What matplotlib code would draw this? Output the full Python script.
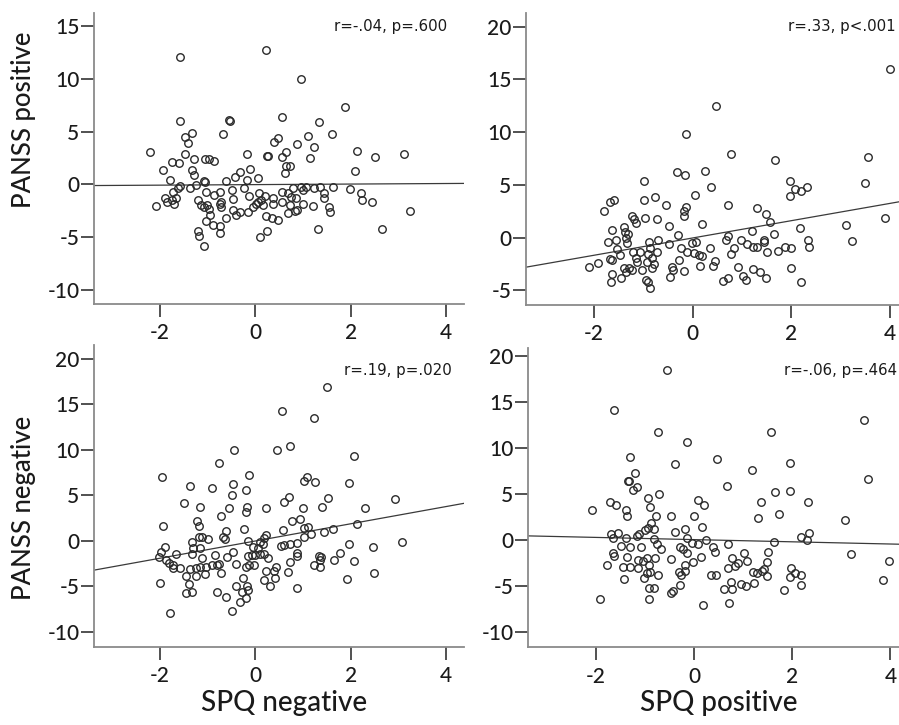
import matplotlib
matplotlib.use("Agg")
import matplotlib.pyplot as plt
import numpy as np

plt.rcParams['axes.unicode_minus'] = False

# ---------------- data ----------------
tl_x = [-2.22,-2.09,-1.94,-1.80,-1.76,-1.61,-1.59,-1.59,-1.48,-1.41,-1.33,-1.48,-1.29,-1.34,-1.29,-1.90,-1.85,-1.76,-1.71,-1.67,
        -1.74,-1.62,-1.59,-1.38,-1.25,-1.20,-1.15,-1.08,-1.06,-1.06,-0.97,-0.87,-1.20,-1.19,-1.08,-1.03,-1.01,-0.97,-0.96,-1.03,
        -0.89,-0.87,-0.75,-0.74,-0.75,-0.72,-0.72,-0.74,-0.68,-0.62,-0.62,-0.56,-0.54,-0.50,-0.47,-0.48,-0.43,-0.40,-0.33,-0.33,
        -0.24,-0.17,-0.17,-0.15,-0.12,-0.13,-1.08,
        0.23,0.95,1.88,0.55,1.33,1.61,1.10,0.88,1.22,0.39,0.48,0.25,0.27,0.64,0.55,1.14,2.14,2.52,3.12,0.65,0.73,0.63,2.10,0.06,
        0.08,0.20,0.37,0.55,0.68,0.79,0.95,1.06,1.00,0.86,0.75,1.35,1.22,1.63,1.45,1.44,1.99,2.21,2.23,2.45,3.25,0.06,0.01,0.11,
        0.16,-0.05,0.36,0.55,0.72,0.68,0.83,0.87,1.00,1.21,1.54,1.56,0.23,0.35,0.48,0.25,0.09,1.31,2.66]
tl_y = [3.1,-2.1,1.36,0.41,2.15,2.0,12.06,6.0,4.5,3.9,4.87,2.9,2.4,1.36,0.9,-1.33,-1.7,-1.5,-1.9,-1.27,
        -0.7,-0.38,-0.2,-0.38,-0.06,-1.5,-1.96,0.32,0.25,2.37,2.37,2.25,-4.43,-4.87,-5.9,-0.7,-2.0,-2.3,-2.9,-3.5,
        -3.86,-1.0,-4.0,-4.6,-1.9,-1.65,-2.2,-0.7,4.78,0.32,-3.2,6.1,6.0,-0.54,-1.39,-2.4,0.66,-2.9,-2.6,1.2,
        -0.38,2.9,0.41,-2.6,1.5,-1.08,-2.2,
        12.75,10.0,7.37,6.42,5.95,4.81,4.59,3.8,3.58,4.05,4.43,2.69,2.69,3.1,2.63,2.47,3.2,2.6,2.85,1.77,1.77,1.04,1.3,0.57,
        -0.85,-1.08,-1.27,-0.7,-0.85,-0.32,-0.22,-0.22,-0.54,-1.27,-1.17,-0.22,-0.32,-0.22,-0.85,-1.27,-0.44,-0.85,-1.49,-1.7,-2.5,-1.65,-1.9,-1.49,
        -1.96,-2.2,-1.9,-1.65,-1.96,-2.75,-2.53,-2.44,-1.9,-2.06,-2.12,-2.66,-2.97,-3.23,-3.39,-4.43,-4.97,-4.27,-4.27]

tr_x = [-2.10,-1.93,-1.80,-1.67,-1.59,-1.64,-1.72,-1.67,-1.63,-1.64,-1.65,-1.55,-1.54,-1.48,-1.45,-1.40,-1.37,-1.31,-1.35,-1.33,
        -1.40,-1.35,-1.30,-1.24,-1.23,-1.20,-1.16,-1.22,-1.16,-1.13,-1.06,-1.03,-0.99,-0.98,-0.96,-0.90,-0.95,-0.90,-0.86,-0.88,
        -0.86,-0.93,-0.82,-0.77,-0.82,-0.79,-0.72,-0.72,-0.70,-0.55,-0.48,-0.48,-0.43,-0.47,-0.41,-0.29,-0.31,-0.16,-0.14,-0.14,
        -0.18,-0.18,-0.28,-0.18,-0.24,-0.11,-0.01,0.03,0.05,
        3.99,0.48,0.78,1.67,3.56,0.25,0.38,1.98,2.07,2.20,2.32,1.98,3.50,0.71,1.31,1.49,1.57,0.18,2.18,3.10,3.89,3.22,1.20,1.65,
        0.71,0.67,0.06,0.35,0.84,0.78,0.98,1.10,1.22,1.31,1.44,1.44,1.50,1.73,1.88,1.99,2.34,2.36,0.13,0.18,0.46,0.15,0.41,0.91,
        1.23,1.37,0.62,0.72,1.01,1.07,1.49,2.00,2.19]
tr_y = [-2.82,-2.44,2.56,3.35,3.58,0.73,-0.38,-2.06,-2.12,-3.48,-4.18,-0.22,-1.08,-1.65,-3.86,1.04,0.57,0.32,-0.06,-0.54,
        -2.91,-3.23,-2.91,-3.07,2.09,1.74,1.36,-1.33,-1.96,-2.28,-1.33,-3.07,5.38,3.58,1.84,-1.58,-4.02,-4.24,-4.81,-0.38,
        -1.01,-2.28,-1.96,3.86,-2.91,-2.53,1.77,-1.33,-0.28,3.04,1.14,-0.63,-2.75,-3.7,-3.07,0.25,6.17,5.89,9.84,2.94,
        2.47,2.09,-2.12,-3.13,-0.95,-1.33,-0.54,-1.49,4.05,
        16.0,12.5,7.91,7.31,7.63,6.27,4.84,5.38,4.59,4.37,4.84,3.96,5.22,3.04,2.78,2.25,1.52,1.30,0.95,1.20,1.90,-0.32,0.66,0.38,
        0.19,-0.28,-0.38,-1.01,-1.01,-1.58,-0.22,-0.63,-0.92,-0.92,-0.28,-0.38,-1.39,-1.27,-0.92,-1.01,-0.25,-0.92,-1.65,-1.71,-2.18,-2.66,-2.66,-2.82,
        -2.97,-3.23,-4.08,-3.86,-3.61,-4.02,-3.86,-2.85,-4.18]

bl_x = [-1.96,-1.94,-2.01,-1.80,-1.90,-1.98,-2.02,-1.87,-1.81,-1.73,-1.74,-1.66,-1.59,-1.50,-1.38,-1.45,-1.40,-1.45,-1.34,-1.34,
        -1.32,-1.34,-1.38,-1.25,-1.24,-1.22,-1.19,-1.17,-1.19,-1.12,-1.17,-1.13,-1.16,-1.06,-1.03,-1.00,-0.91,-0.85,-0.92,-0.80,
        -0.77,-0.73,-0.77,-0.73,-0.80,-0.61,-0.68,-0.63,-0.61,-0.56,-0.50,-0.47,-0.45,-0.48,-0.59,-0.50,-0.41,-0.40,-0.29,-0.33,
        -0.26,-0.24,-0.19,-0.19,-0.17,-0.19,-0.15,-0.13,-0.15,-0.17,-0.19,-0.15,
        1.51,0.55,1.22,0.72,0.45,2.07,1.09,1.03,1.26,1.96,0.71,0.61,1.52,0.23,1.00,1.40,2.31,2.94,0.77,0.93,1.01,1.10,0.57,1.03,
        1.17,1.43,1.63,2.13,0.09,0.17,0.22,0.15,-0.05,0.06,0.54,0.61,0.72,0.88,0.88,0.87,1.96,2.47,3.07,-0.08,-0.01,0.09,0.17,0.27,
        -0.13,-0.03,0.22,0.39,0.44,0.73,0.69,1.22,1.35,1.33,1.37,1.35,1.65,1.77,2.07,0.17,0.30,0.42,0.88,1.93,2.49]
bl_y = [6.97,1.62,-4.63,-8.0,-0.73,-1.21,-1.84,-2.13,-2.5,-2.97,-2.68,-1.51,-3.05,4.11,6.02,-3.85,-4.81,-5.8,-5.62,-0.11,
        -0.84,-1.51,-3.12,-2.97,-3.85,2.2,1.65,3.67,0.44,0.44,-0.84,-1.95,-2.86,-3.71,-2.86,0.15,5.84,-1.58,-2.68,-2.68,
        -2.57,-3.52,8.52,2.75,-5.62,1.10,0.44,0.18,-6.17,3.63,5.03,6.2,9.99,-1.21,-1.84,-7.71,-2.57,-4.96,-5.62,-6.72,
        -4.15,1.28,5.58,3.19,3.74,-2.86,-1.65,7.23,-0.04,-4.96,-6.35,-5.43,
        16.96,14.28,13.55,10.43,9.99,9.32,7.05,6.57,6.5,6.31,4.77,4.3,4.74,3.63,3.63,3.74,3.63,4.59,2.17,2.35,1.36,1.54,1.17,0.44,
        0.73,0.99,1.28,1.84,-0.18,0.26,0.62,-0.40,-0.66,-0.84,-0.59,-0.48,-0.37,-0.29,-1.32,-1.65,-0.37,-0.66,-0.18,-1.58,-1.58,-1.51,-1.51,-1.95,
        -2.68,-2.68,-3.3,-3.3,-2.94,-2.39,-3.49,-2.68,-2.86,-1.65,-1.84,-2.13,-2.13,-1.40,-2.24,-4.33,-4.99,-4.15,-5.25,-4.26,-3.52]

br_x = [-0.55,-1.63,-0.73,-0.14,-1.31,-0.39,-1.21,-1.34,-1.32,-1.15,-1.24,-0.72,-0.93,-1.70,-1.58,-2.07,-1.38,-1.36,-0.89,-0.78,
        -0.46,-0.87,-0.93,-0.81,-1.00,-0.18,-0.38,0.0,-1.69,-1.54,-1.64,-1.17,-1.12,-1.38,-1.48,-1.31,-1.07,-0.81,-0.76,-0.68,
        -0.29,-0.15,-0.22,-0.14,-0.04,-1.65,-1.63,-1.78,-1.44,-1.36,-1.31,-1.14,-1.14,-1.04,-0.95,-0.92,-0.90,-0.95,-0.80,-0.73,
        -1.02,-1.42,-0.46,-0.31,-0.26,-0.18,-0.01,-0.18,-0.29,-0.43,-0.46,-0.92,-0.82,-0.92,-1.91,
        3.46,1.56,0.47,1.18,1.96,3.54,0.68,1.66,1.96,1.36,2.32,0.09,0.20,1.73,1.31,3.07,0.16,2.35,2.19,2.30,1.64,0.25,0.09,0.69,
        0.39,0.42,0.15,3.20,3.98,3.86,0.78,0.89,1.01,1.08,0.84,0.69,1.50,1.49,1.42,1.38,1.20,1.29,1.49,1.23,0.34,0.45,0.76,0.78,
        0.61,0.96,1.05,1.97,1.96,2.06,2.18,2.17,1.84,0.18,0.71]
br_y = [18.55,14.18,11.75,10.65,8.98,8.25,7.27,6.44,6.36,5.71,5.38,4.98,4.55,4.18,3.82,3.27,3.27,2.55,3.53,2.55,
        2.55,1.82,1.27,1.16,1.09,1.16,0.84,2.55,0.62,0.73,0.25,0.47,0.62,0.18,-0.62,-0.73,-0.73,0.11,-0.47,-0.98,
        -0.73,0.18,-0.98,-1.45,-0.36,-1.45,-1.75,-2.73,-2.91,-1.82,-2.91,-2.18,-3.02,-2.29,-2.0,-2.73,-3.45,-3.64,-2.0,-3.82,
        -4.11,-4.29,-2.07,-3.45,-3.82,-2.73,-2.44,-3.38,-4.91,-5.56,-5.82,-5.2,-5.2,-6.44,-6.47,
        13.02,11.71,8.8,7.64,8.36,6.65,5.82,5.2,5.27,4.18,4.11,4.36,3.75,2.8,2.36,2.18,1.35,0.8,0.29,0.0,-0.18,0.0,-0.44,-0.44,
        -0.8,-1.35,-1.89,-1.56,-2.25,-4.36,-2.0,-2.55,-1.45,-2.25,-2.8,-3.09,-1.27,-2.36,-3.16,-3.35,-3.45,-3.64,-3.89,-4.65,-3.82,-3.82,-4.62,-5.35,
        -5.38,-4.8,-4.98,-3.09,-4.0,-3.56,-3.82,-4.91,-5.45,-7.09,-6.91]

# fit lines: (slope, intercept)
tl_fit = (0.026, -0.03)
tr_fit = (0.82, -0.04)
bl_fit = (0.947, -0.03)
br_fit = (-0.12, 0.03)

stats = ["r=-.04, p=.600", "r=.33, p<.001", "r=.19, p=.020", "r=-.06, p=.464"]
x_labels = ["SPQ negative", "SPQ positive"]
y_labels = ["PANSS positive", "PANSS negative"]
x_ticks = [-2, 0, 2, 4]
tl_yticks = [-10, -5, 0, 5, 10, 15]
tr_yticks = [-5, 0, 5, 10, 15, 20]
b_yticks = [-10, -5, 0, 5, 10, 15, 20]

# ---------------- figure ----------------
W, H = 899, 725
fig = plt.figure(figsize=(W / 100, H / 100), dpi=100)
fig.patch.set_facecolor("white")

TICKFONT = "Lato"
TXT = "#1a1a1a"


def ax_at(x0, x1, ytop, ybot):
    return fig.add_axes([x0 / W, 1 - ybot / H, (x1 - x0) / W, (ybot - ytop) / H])


def style(ax, xlim, ylim, yticks):
    ax.set_xlim(*xlim)
    ax.set_ylim(*ylim)
    ax.set_xticks(x_ticks)
    ax.set_yticks(yticks)
    ax.set_xticklabels([str(t) for t in x_ticks])
    ax.set_yticklabels([str(t) for t in yticks])
    for s in ["top", "right"]:
        ax.spines[s].set_visible(False)
    for s in ["left", "bottom"]:
        ax.spines[s].set_color("#8a8a8a")
        ax.spines[s].set_linewidth(1.3)
    ax.tick_params(axis="both", direction="out", length=9.5, width=1.1,
                   color="#222222", labelcolor=TXT, labelsize=15)
    ax.tick_params(axis="x", pad=4.5)
    ax.tick_params(axis="y", pad=1)
    for lab in ax.get_xticklabels() + ax.get_yticklabels():
        lab.set_fontfamily(TICKFONT)
        lab.set_fontweight("medium")
    ax.set_facecolor("white")


def draw(ax, xs, ys, fit, xlim):
    ax.plot(xs, ys, linestyle="none", marker="o", markersize=5.4,
            markerfacecolor="none", markeredgecolor="#2a2a2a", markeredgewidth=1.0,
            clip_on=False, zorder=3)
    lx = np.array(xlim)
    ax.plot(lx, fit[0] * lx + fit[1], color="#3a3a3a", linewidth=0.9, zorder=2)


xl_left = (-3.39, 4.38)
xl_right = (-3.38, 4.38)

ax1 = ax_at(94, 464, 13, 304)
style(ax1, xl_left, (-11.37, 16.27), tl_yticks)
draw(ax1, tl_x, tl_y, tl_fit, xl_left)

ax2 = ax_at(526, 526 + (xl_right[1] - xl_right[0]) * 49.33, 13, 305)
style(ax2, xl_right, (-6.4, 21.3), tr_yticks)
draw(ax2, tr_x, tr_y, tr_fit, xl_right)

ax3 = ax_at(94, 464, 345, 646.7)
style(ax3, xl_left, (-11.67, 21.55), b_yticks)
draw(ax3, bl_x, bl_y, bl_fit, xl_left)

ax4 = ax_at(528, 528 + (xl_right[1] - xl_right[0]) * 49.1, 348, 647.3)
style(ax4, xl_right, (-11.7, 20.9), b_yticks)
draw(ax4, br_x, br_y, br_fit, xl_right)

# stats annotations (figure pixel coords)
def ftext(px, py, s, **kw):
    fig.text(px / W, 1 - py / H, s, **kw)

ann = dict(fontsize=10.8, family="DejaVu Sans", color=TXT, ha="right", va="center")
ftext(447, 26, stats[0], **ann)
ftext(896, 27, stats[1], **ann)
ftext(452, 371, stats[2], **ann)
ftext(897, 370, stats[3], **ann)

lab = dict(family="Lato", color=TXT, fontweight="medium")
ftext(24, 120, y_labels[0], rotation=90, ha="center", va="center", fontsize=18.5, **lab)
ftext(24, 508, y_labels[1], rotation=90, ha="center", va="center", fontsize=18.5, **lab)
ftext(284, 703, x_labels[0], ha="center", va="center", fontsize=20, **lab)
ftext(719, 703, x_labels[1], ha="center", va="center", fontsize=20, **lab)

fig.savefig("out.png", dpi=100, facecolor="white")
